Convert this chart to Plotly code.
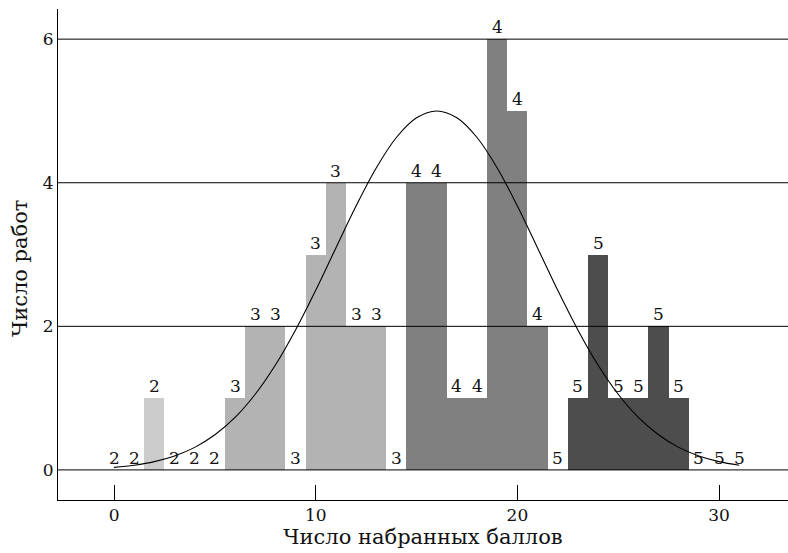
import plotly.graph_objects as go

# ---- data ----
scores = list(range(32))
counts = [0, 0, 1, 0, 0, 0, 1, 2, 2, 0, 3, 4, 2, 2, 0, 4, 4, 1, 1, 6, 5, 2,
          0, 1, 3, 1, 1, 2, 1, 0, 0, 0]
grades = [2] * 6 + [3] * 9 + [4] * 7 + [5] * 10

curve_x = list(range(32))
curve_y = [0.036, 0.066, 0.115, 0.194, 0.314, 0.489, 0.731, 1.054, 1.461, 1.950,
           2.503, 3.092, 3.676, 4.206, 4.630, 4.905, 5.000, 4.905, 4.630, 4.206,
           3.676, 3.092, 2.503, 1.950, 1.461, 1.054, 0.731, 0.489, 0.314, 0.194,
           0.115, 0.066]

x_ticks = [0, 10, 20, 30]
y_ticks = [0, 2, 4, 6]

x_title = "Число набранных баллов"
y_title = "Число работ"

grade_colors = {2: "#cccccc", 3: "#b3b3b3", 4: "#808080", 5: "#4d4d4d"}
FONT = "DejaVu Serif"

fig = go.Figure()
fig.add_trace(go.Bar(
    x=scores, y=counts, width=1.0,
    marker=dict(color=[grade_colors[g] for g in grades], line=dict(width=0)),
    hoverinfo="skip", showlegend=False,
))
fig.add_trace(go.Scatter(
    x=curve_x, y=curve_y, mode="lines",
    line=dict(color="black", width=1.1, shape="spline"),
    hoverinfo="skip", showlegend=False,
))

# horizontal reference lines drawn above the bars
for yv in y_ticks:
    fig.add_shape(type="line", xref="paper", yref="y", x0=0, x1=1, y0=yv, y1=yv,
                  line=dict(color="black", width=1), layer="above")

# grade labels above each bar
for s, c, g in zip(scores, counts, grades):
    fig.add_annotation(x=s, y=c, text=str(g), showarrow=False, xref="x", yref="y",
                       yanchor="bottom", yshift=0,
                       font=dict(family=FONT, size=17, color="#111"))

# y-axis title (placed as in the reference, slightly below centre)
fig.add_annotation(text=y_title, textangle=-90, showarrow=False,
                   xref="paper", yref="paper", x=-0.052, y=0.4725,
                   xanchor="center", yanchor="middle",
                   font=dict(family=FONT, size=21, color="#111"))

fig.update_layout(
    width=788, height=553,
    margin=dict(l=58, r=0, t=9, b=53),
    plot_bgcolor="white", paper_bgcolor="white",
    font=dict(family=FONT, size=17, color="#111"),
    bargap=0,
    xaxis=dict(range=[-2.78, 33.42], tickvals=x_ticks, ticks="inside", ticklen=15,
               tickcolor="black", tickwidth=1, showline=True, linecolor="black",
               linewidth=1, showgrid=False, zeroline=False,
               tickfont=dict(family=FONT, size=17),
               title=dict(text=x_title, standoff=3,
                          font=dict(family=FONT, size=21))),
    yaxis=dict(range=[-0.419, 6.42], tickvals=y_ticks, ticks="", showline=True,
               linecolor="black", linewidth=1, showgrid=False, zeroline=False,
               tickfont=dict(family=FONT, size=17)),
)

fig.write_html("out.html", config={"displayModeBar": False},
               post_script="document.body.style.margin='0';document.body.style.overflow='hidden';")
